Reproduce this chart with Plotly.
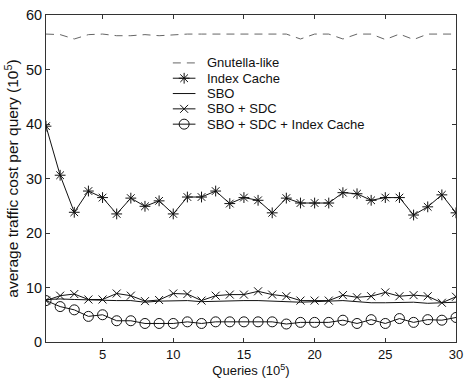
import plotly.graph_objects as go

queries = list(range(1, 31))

gnutella = [56.5, 56.4, 55.6, 56.4, 56.5, 56.2, 56.2, 56.4, 56.2, 56.4, 56.5, 56.5, 56.5, 56.5, 56.5, 56.5, 56.5, 56.5, 55.6,
            56.5, 56.5, 55.6, 56.5, 56.5, 55.5, 56.5, 55.5, 56.5, 56.5, 56.5]
index_cache = [39.6, 30.6, 23.8, 27.7, 26.5, 23.5, 26.4, 24.9, 25.9, 23.5, 26.6, 26.6, 27.7, 25.4, 26.5,
               26.0, 23.7, 26.4, 25.5, 25.5, 25.5, 27.4, 27.2, 26.0, 26.5, 26.5, 23.3, 24.8, 27.0, 23.7]
sbo = [7.8, 7.9, 7.8, 7.7, 7.7, 7.6, 7.6, 7.3, 7.5, 7.6, 7.6, 7.4, 7.5, 7.6, 7.6,
       7.6, 7.5, 7.4, 7.3, 7.4, 7.5, 7.6, 7.4, 7.2, 7.2, 7.3, 7.3, 7.1, 7.2, 7.3]
sbo_sdc = [7.6, 8.5, 8.8, 7.8, 7.8, 8.9, 8.5, 7.5, 7.7, 8.9, 8.8, 7.6, 8.5, 8.7, 8.7,
           9.3, 8.7, 8.4, 7.6, 7.6, 7.6, 8.6, 8.2, 8.4, 9.1, 8.4, 8.6, 8.4, 7.2, 8.3]
sbo_sdc_ic = [7.6, 6.5, 5.9, 4.7, 5.0, 3.9, 3.9, 3.4, 3.4, 3.4, 3.7, 3.4, 3.7, 3.7, 3.7,
              3.7, 3.7, 3.3, 3.6, 3.6, 3.6, 4.0, 3.4, 4.1, 3.4, 4.3, 3.6, 4.1, 4.0, 4.5]

names = ["Gnutella-like", "Index Cache", "SBO", "SBO + SDC", "SBO + SDC + Index Cache"]

FONT = "Liberation Sans, Arial, sans-serif"
BLACK = "#111111"

series = [
    (gnutella, dict(color="#666666", width=1, dash="8px,6px"), "lines", None),
    (index_cache, dict(color=BLACK, width=1), "lines+markers",
     dict(symbol="asterisk-open", size=9, color=BLACK, line=dict(color=BLACK, width=1))),
    (sbo, dict(color=BLACK, width=1), "lines", None),
    (sbo_sdc, dict(color=BLACK, width=1), "lines+markers",
     dict(symbol="x-thin-open", size=8, color=BLACK, line=dict(color=BLACK, width=1))),
    (sbo_sdc_ic, dict(color=BLACK, width=1), "lines+markers",
     dict(symbol="circle-open", size=10, color=BLACK, line=dict(color=BLACK, width=1))),
]

fig = go.Figure()
for vals, line, mode, marker in series:
    kw = dict(x=queries, y=vals, mode=mode, line=line, showlegend=False, hoverinfo="skip")
    if marker:
        kw["marker"] = marker
    fig.add_trace(go.Scatter(**kw))

# manual legend in pixel-like overlay coordinates
L, R, T, B = 46, 463, 11, 342
row_y = [59.5, 75, 90.5, 106, 121.5]
x0, x1, xt = 175, 198, 208
for i, (vals, line, mode, marker) in enumerate(series):
    y = row_y[i]
    fig.add_trace(go.Scatter(x=[x0, x1], y=[y, y], mode="lines", line=line,
                             xaxis="x2", yaxis="y2", showlegend=False, hoverinfo="skip"))
    if marker:
        fig.add_trace(go.Scatter(x=[(x0 + x1) / 2], y=[y], mode="markers", marker=marker,
                                 xaxis="x2", yaxis="y2", showlegend=False, hoverinfo="skip"))
    fig.add_annotation(x=xt, y=y, xref="x2", yref="y2", text=names[i], showarrow=False,
                       xanchor="left", yanchor="middle", font=dict(family=FONT, size=13, color=BLACK))

W, H = 470, 385
fig.update_layout(
    width=W, height=H,
    margin=dict(l=L, r=W - R, t=T, b=H - B),
    paper_bgcolor="white", plot_bgcolor="white",
    font=dict(family=FONT, size=13, color=BLACK),
    xaxis=dict(range=[1, 30], tickvals=[5, 10, 15, 20, 25, 30], ticks="inside", ticklen=4,
               tickcolor="#333", showline=True, linecolor="#333", linewidth=1, mirror="ticks",
               showgrid=False, zeroline=False,
               title=dict(text="Queries (10<sup>5</sup>)", font=dict(size=13), standoff=4),
               tickfont=dict(size=13)),
    yaxis=dict(range=[0, 60], tickvals=[0, 10, 20, 30, 40, 50, 60], ticks="inside", ticklen=4,
               tickcolor="#333", showline=True, linecolor="#333", linewidth=1, mirror="ticks",
               showgrid=False, zeroline=False,
               title=dict(text="average traffic cost per query (10<sup>5</sup>)", font=dict(size=15.5), standoff=3),
               tickfont=dict(size=14.5)),
    xaxis2=dict(range=[L, R], overlaying="x", visible=False, fixedrange=True),
    yaxis2=dict(range=[B, T], overlaying="y", visible=False, fixedrange=True),
)

fig.write_html("out.html")
